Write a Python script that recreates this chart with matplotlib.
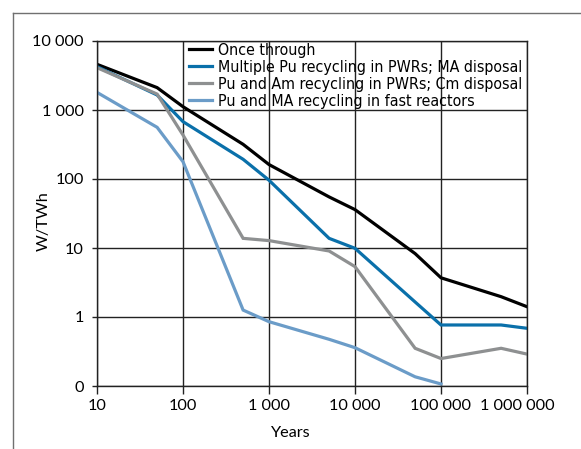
import numpy as np
import matplotlib.pyplot as plt
import matplotlib.transforms as mtransforms
from matplotlib.lines import Line2D

# Dados (W/TWh em função do tempo, anos)
anos = [10, 50, 100, 500, 1000, 5000, 10000, 50000, 100000, 500000, 1000000]
anos_rapido = anos[:9]

once_through = [4590, 2110, 1117, 318, 162, 55, 36, 8.3, 3.7, 1.97, 1.41]
pu_pwr_ma = [4250, 1650, 678, 193, 96, 13.8, 9.9, 1.65, 0.766, 0.766, 0.686]
pu_am_pwr = [4110, 1700, 434, 13.8, 12.8, 9.05, 5.37, 0.352, 0.25, 0.352, 0.29]
pu_ma_rapido = [1800, 561, 178, 1.26, 0.855, 0.475, 0.359, 0.136, 0.107]

rotulos = ['Once through',
           'Multiple Pu recycling in PWRs; MA disposal',
           'Pu and Am recycling in PWRs; Cm disposal',
           'Pu and MA recycling in fast reactors']
cores = ['#000000', '#0a70aa', '#8e9091', '#6b9cc8']

x_ticks = [10, 100, 1000, 10000, 100000, 1000000]
x_rotulos = ['10', '100', '1 000', '10 000', '100 000', '1 000 000']
y_ticks = [0.1, 1, 10, 100, 1000, 10000]
y_rotulos = ['0', '1', '10', '100', '1 000', '10 000']

fonte_eixo = 'Lato'
fonte_legenda = dict(family='DejaVu Sans', stretch='condensed', size=11.45)

fig = plt.figure(figsize=(5.81, 4.49), dpi=100)
ax = fig.add_axes([97/581, 1-386/449, 430/581, 345/449])

# moldura cinza (só topo e esquerda)
fig.add_artist(Line2D([12.5/581, 12.5/581], [0, 1-12.7/449], transform=fig.transFigure,
                      color='#707070', lw=1))
fig.add_artist(Line2D([12.5/581, 1], [1-12.7/449, 1-12.7/449], transform=fig.transFigure,
                      color='#707070', lw=1))

series = [(anos, once_through), (anos, pu_pwr_ma), (anos, pu_am_pwr), (anos_rapido, pu_ma_rapido)]
for (xs, ys), rot, cor in zip(series, rotulos, cores):
    ax.plot(xs, ys, color=cor, lw=2.3, label=rot, solid_joinstyle='miter')

ax.set_xscale('log')
ax.set_yscale('log')
ax.set_xlim(10, 1000000)
ax.set_ylim(0.1, 10000)
ax.minorticks_off()
ax.set_xticks(x_ticks)
ax.set_xticklabels(x_rotulos, family=fonte_eixo, fontsize=11.7)
ax.set_yticks(y_ticks)
ax.set_yticklabels(y_rotulos, family=fonte_eixo, fontsize=11.7)
ax.tick_params(axis='x', direction='out', length=6, width=1, pad=3.5, color='#222222')
ax.tick_params(axis='y', direction='out', length=3.5, width=1, pad=6, color='#222222')

# último rótulo deslocado para a esquerda
ult = ax.get_xticklabels()[-1]
ult.set_transform(ult.get_transform() + mtransforms.ScaledTranslation(-10/100, 0, fig.dpi_scale_trans))

ax.grid(True, color='#222222', lw=1)
ax.set_axisbelow(True)
for s in ax.spines.values():
    s.set_color('#222222')
    s.set_linewidth(1)

ax.set_xlabel('Years', family=fonte_eixo, fontsize=11.7)
ax.xaxis.set_label_coords((290-97)/430, -(426-386)/345)
ax.set_ylabel('W/TWh', family=fonte_eixo, fontsize=11.7)
ax.yaxis.set_label_coords(-(97-51)/430, 1-(221-41)/345)

leg = ax.legend(loc='upper left', bbox_to_anchor=((189-97)/430, 1 - 1.5/345), frameon=False,
                prop=fonte_legenda, handlelength=1.45, handletextpad=0.35,
                labelspacing=0.13, borderpad=0.0, borderaxespad=0.0)

fig.savefig('out.png', dpi=100)
